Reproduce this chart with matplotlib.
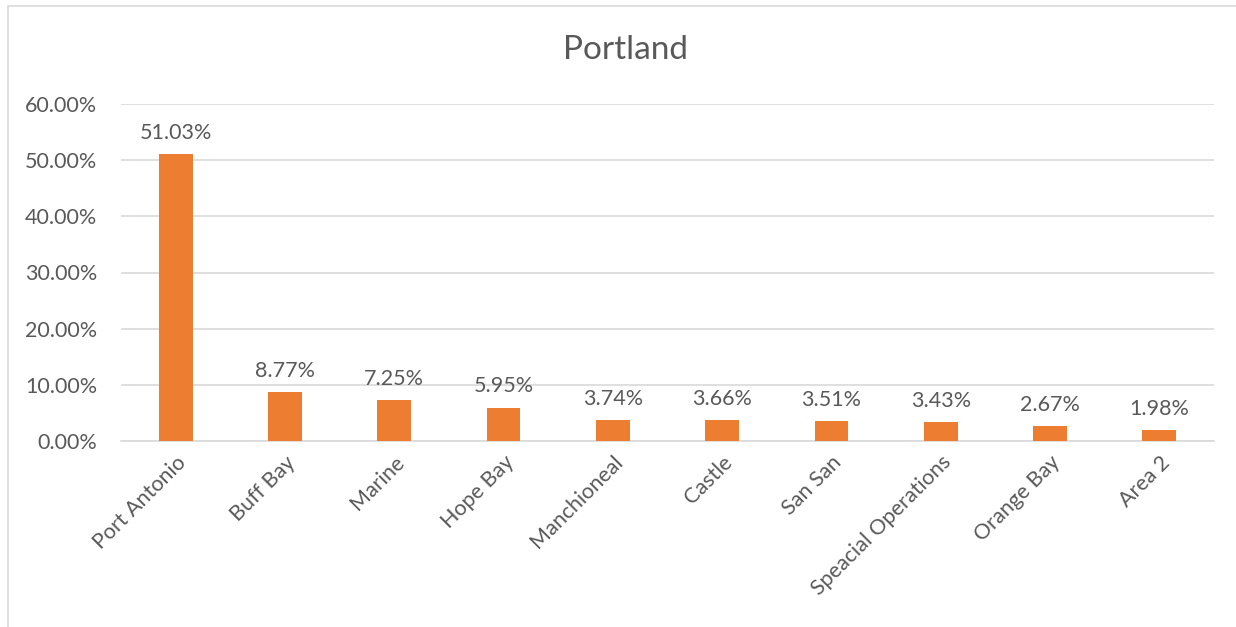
import matplotlib.pyplot as plt
from matplotlib.patches import Rectangle
from matplotlib.ticker import FuncFormatter

# data
stations = ["Port Antonio", "Buff Bay", "Marine", "Hope Bay", "Manchioneal",
            "Castle", "San San", "Speacial Operations", "Orange Bay", "Area 2"]
shares = [51.03, 8.77, 7.25, 5.95, 3.74, 3.66, 3.51, 3.43, 2.67, 1.98]
yticks = [0, 10, 20, 30, 40, 50, 60]

plt.rcParams['font.family'] = ['Lato', 'DejaVu Sans']
txt = '#595959'
grid = '#d9d9d9'

fig = plt.figure(figsize=(12.36, 6.27), dpi=100)
ax = fig.add_axes([121/1236, 1 - 441/627, 1093/1236, 337/627])

# chart border (only left/top visible in the crop)
fig.patches.append(Rectangle((8/1236, -0.05), 1.1, 1 - 6/627 + 0.05,
                             transform=fig.transFigure, fill=False,
                             edgecolor=grid, linewidth=1.2))

x = range(len(stations))
bars = ax.bar(x, shares, width=0.31, color='#ed7d31', zorder=3)
for b, v in zip(bars, shares):
    ax.text(b.get_x() + b.get_width() / 2, v + 2.0, f"{v:.2f}%",
            ha='center', va='bottom', fontsize=15.5, color=txt)

ax.set_xlim(-0.5, len(stations) - 0.5)
ax.set_ylim(0, 60)
ax.set_yticks(yticks)
ax.yaxis.set_major_formatter(FuncFormatter(lambda v, p: f"{v:.2f}%"))
ax.grid(axis='y', color=grid, linewidth=1.2, zorder=0)
for s in ['top', 'right', 'left']:
    ax.spines[s].set_visible(False)
ax.spines['bottom'].set_color(grid)
ax.spines['bottom'].set_linewidth(1.2)
ax.tick_params(length=0, labelsize=15.5, labelcolor=txt)
ax.tick_params(axis='y', pad=17)
ax.set_xticks(list(x))
ax.set_xticklabels(stations, rotation=45, ha='right', rotation_mode='anchor')
ax.tick_params(axis='x', pad=8)

fig.text(626/1236, 1 - 50/627, "Portland", ha='center', va='center',
         fontsize=24, color=txt)

fig.savefig("out.png", dpi=100)
